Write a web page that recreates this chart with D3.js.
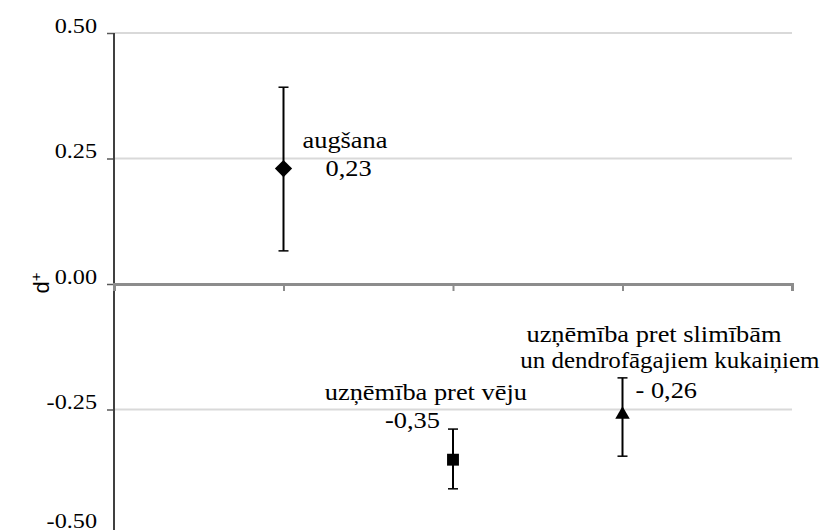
<!DOCTYPE html>
<html>
<head>
<meta charset="utf-8">
<script src="https://cdn.jsdelivr.net/npm/d3@7"></script>
<style>
  body { margin: 0; background: #fff; }
  text { font-family: "Liberation Serif", "Times New Roman", serif; fill: #000; }
</style>
</head>
<body>
<div id="chart"></div>
<script>
// values
var categories = ["augšana", "uzņēmība pret vēju", "uzņēmība pret slimībām un dendrofāgajiem kukaiņiem"];
var values = [0.23, -0.35, -0.26];
var lower = [0.066, -0.408, -0.343];
var upper = [0.392, -0.289, -0.187];
var valueLabels = ["0,23", "-0,35", "- 0,26"];
var markers = ["diamond", "square", "triangle"];
var yTicks = [0.5, 0.25, 0, -0.25, -0.5];
var xPositions = [1, 2, 3];

var width = 823, height = 530;

var svg = d3.select("#chart").append("svg")
    .attr("width", width)
    .attr("height", height);

var x = d3.scaleLinear().domain([0, 4]).range([114, 792]);
var y = d3.scaleLinear().domain([-0.5, 0.5]).range([535, 33]);

// gridlines
svg.append("g")
    .selectAll("line")
    .data(yTicks.filter(function (d) { return d !== 0; }))
    .enter().append("line")
    .attr("x1", 114).attr("x2", 792)
    .attr("y1", function (d) { return y(d); })
    .attr("y2", function (d) { return y(d); })
    .attr("stroke", "#d9d9d9")
    .attr("stroke-width", 2);

// y axis
var fmt = d3.format(".2f");
var yAxis = d3.axisLeft(y)
    .tickValues(yTicks)
    .tickSize(7)
    .tickFormat(function (d) { return fmt(d).replace("\u2212", "-"); });

var gy = svg.append("g")
    .attr("transform", "translate(114,0)")
    .call(yAxis);
gy.select(".domain").remove();
gy.selectAll(".tick line").attr("stroke", "#595959").attr("stroke-width", 1.5);
gy.selectAll(".tick text")
    .attr("x", 0)
    .attr("y", 0)
    .attr("dy", "0.32em")
    .attr("text-anchor", "end")
    .attr("transform", function (d) {
        // bottom label sits higher, the frame is cut just below it
        var off = d === -0.5 ? -15 : -8;
        return "translate(-17," + off + ") scale(1.1,1)";
    })
    .style("font-family", "Liberation Serif, serif")
    .style("font-size", "22px");

svg.append("line")
    .attr("x1", 114).attr("x2", 114)
    .attr("y1", y(0.5)).attr("y2", height)
    .attr("stroke", "#404040")
    .attr("stroke-width", 2);

// x axis along zero
var xAxis = d3.axisBottom(x)
    .tickValues([0, 1, 2, 3, 4])
    .tickSize(7)
    .tickFormat("");
var gx = svg.append("g")
    .attr("transform", "translate(0," + y(0) + ")")
    .call(xAxis);
gx.select(".domain").attr("stroke", "#8c8c8c").attr("stroke-width", 3);
gx.selectAll(".tick line").attr("stroke", "#8c8c8c").attr("stroke-width", 2);

// y label
svg.append("text")
    .attr("transform", "translate(49," + 283 + ") rotate(-90)")
    .attr("text-anchor", "middle")
    .style("font-family", "Liberation Sans, Arial, sans-serif")
    .style("font-size", "22px")
    .html("d<tspan dy='-8' font-size='15'>+</tspan>");

// error bars
var bars = svg.append("g");
xPositions.forEach(function (p, i) {
    var cx = x(p);
    bars.append("line")
        .attr("x1", cx).attr("x2", cx)
        .attr("y1", y(upper[i])).attr("y2", y(lower[i]))
        .attr("stroke", "#000").attr("stroke-width", 2);
    [upper[i], lower[i]].forEach(function (v) {
        bars.append("line")
            .attr("x1", cx - 5).attr("x2", cx + 5)
            .attr("y1", y(v)).attr("y2", y(v))
            .attr("stroke", "#000").attr("stroke-width", 1.5);
    });
});

// markers
var symbolMap = { diamond: d3.symbolDiamond2, square: d3.symbolSquare2, triangle: d3.symbolTriangle2 };
var sizeMap = { diamond: 190, square: 180, triangle: 150 };
svg.append("g")
    .selectAll("path")
    .data(values)
    .enter().append("path")
    .attr("transform", function (d, i) { return "translate(" + x(xPositions[i]) + "," + y(d) + ")"; })
    .attr("d", function (d, i) { return d3.symbol().type(symbolMap[markers[i]]).size(sizeMap[markers[i]])(); })
    .attr("fill", "#000");

// annotations (slightly wide serif, as in the source)
var ann = svg.append("g").style("font-size", "24px");
function label(txt, xx, yy, anchor, sx) {
    ann.append("text")
        .attr("transform", "translate(" + xx + "," + yy + ") scale(" + (sx || 1.1) + ",1)")
        .attr("text-anchor", anchor || "start")
        .text(txt);
}
var cat3 = categories[2].split(" un ");
label(categories[0], x(1) + 19, 148);
label(valueLabels[0], x(1) + 42, 176);
label(categories[1], x(2) + 74, 400, "end");
label(valueLabels[1], x(2) - 13, 428, "end");
label(cat3[0], x(3) + 159, 342, "end");
label("un " + cat3[1], x(3) + 197, 368, "end", 1.04);
label(valueLabels[2], x(3) + 13, 398);
</script>
</body>
</html>
